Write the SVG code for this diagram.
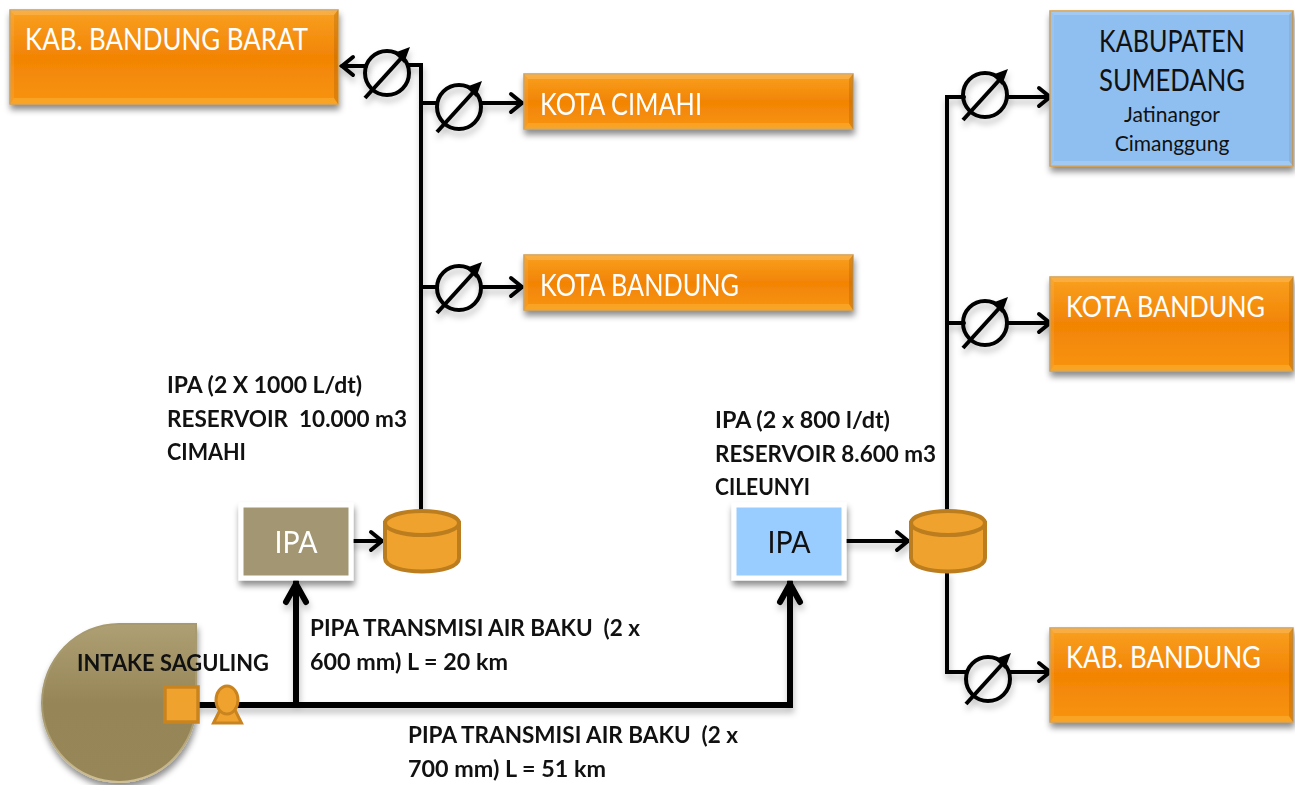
<svg xmlns="http://www.w3.org/2000/svg" width="1295" height="785" viewBox="0 0 1295 785">
<style>
.box{stroke:#d09a4a;stroke-width:1.5}
.o{fill:url(#og)}
.b{fill:#8fbff0}
.bt{fill:#fff;fill-opacity:.16}
.bb{fill:#ffd060;fill-opacity:.28}
.bl{fill:#fff;fill-opacity:.08}
.br{fill:#7a4000;fill-opacity:.2}
.t{font-family:"Lato","Noto Sans",sans-serif;font-size:30px}
.w{fill:#fff}
.k{fill:#111}
.l{font-family:"Lato","Noto Sans",sans-serif;font-size:23px;font-weight:700;fill:#111;white-space:pre}
.c{fill:none;stroke:#000;stroke-width:4;stroke-linecap:round;stroke-linejoin:miter}
.th{stroke-width:6}
.cy{fill:#f0a22e;stroke:#bc7d1e;stroke-width:4}
.m{fill:#fff;fill-opacity:0;stroke:#000;stroke-width:4}
</style>
<defs>
<linearGradient id="og" x1="0" y1="0" x2="0" y2="1"><stop offset="0" stop-color="#f9a020"/><stop offset=".5" stop-color="#f28405"/><stop offset="1" stop-color="#f8940e"/></linearGradient>
<linearGradient id="tg" x1="0" y1="0" x2="0" y2="1"><stop offset="0" stop-color="#ae9f74"/><stop offset=".5" stop-color="#968657"/><stop offset="1" stop-color="#978758"/></linearGradient>
<linearGradient id="rg" x1="0" y1="0" x2="0" y2="1"><stop offset="0" stop-color="#a89a70"/><stop offset=".6" stop-color="#a89a70"/><stop offset="1" stop-color="#d0c094"/></linearGradient>
<filter id="s" x="-15%" y="-25%" width="130%" height="160%"><feDropShadow dx="1" dy="5" stdDeviation="3" flood-color="#000" flood-opacity=".45"/></filter>
<filter id="ls" x="-20%" y="-20%" width="140%" height="140%"><feDropShadow dx="1" dy="5" stdDeviation="3" flood-color="#000" flood-opacity=".25"/></filter>
<marker id="a" markerUnits="userSpaceOnUse" markerWidth="22" markerHeight="26" refX="18" refY="13" orient="auto"><path d="M7 4L18 13L7 22" fill="none" stroke="#000" stroke-width="4" stroke-linecap="round"/></marker>
<marker id="A" markerUnits="userSpaceOnUse" markerWidth="26" markerHeight="30" refX="24" refY="15" orient="auto"><path d="M4 5L22 15L4 25" fill="none" stroke="#000" stroke-width="6" stroke-linecap="round" stroke-linejoin="miter"/></marker>
<g id="meter"><circle r="22" class="m"/><path d="M-22 25L18 -19" fill="none" stroke="#000" stroke-width="4"/><path d="M23 -26L7 -20L17 -10Z" fill="#000"/></g>
</defs>

<g id="intake">
<path d="M197 623V702A78 80 0 1 1 119 623Z" fill="url(#rg)" filter="url(#s)"/>
<path d="M195 625V702A76 78 0 1 1 119 625Z" fill="url(#tg)"/>
</g>

<g id="connectors" filter="url(#ls)">
<path class="c th" d="M199 705H790V582" marker-end="url(#A)"/>
<path class="c th" d="M296 705V582" marker-end="url(#A)"/>
<path class="c" d="M351 541H382" marker-end="url(#a)"/>
<path class="c" d="M845 541H908" marker-end="url(#a)"/>
<path class="c" d="M421 512V65H408" stroke-linecap="butt"/>
<path class="c" d="M366 66H342" marker-end="url(#a)"/>
<path class="c" d="M421 103H437M481 103H522" marker-end="url(#a)"/>
<path class="c" d="M421 287H437M481 287H522" marker-end="url(#a)"/>
<path class="c" d="M947 512V97H964M1007 97H1050" marker-end="url(#a)"/>
<path class="c" d="M947 323H964M1007 323H1050" marker-end="url(#a)"/>
<path class="c" d="M947 572V672H966M1010 672H1050" marker-end="url(#a)"/>
</g>

<g id="meters" filter="url(#ls)">
<use href="#meter" x="387" y="73"/>
<use href="#meter" x="459" y="107"/>
<use href="#meter" x="459" y="288"/>
<use href="#meter" x="985" y="95"/>
<use href="#meter" x="985" y="323"/>
<use href="#meter" x="988" y="679"/>
</g>

<g id="kab-bandung-barat"><rect class="box o" x="10" y="10" width="328" height="94" filter="url(#s)"/>
<path class="bt" d="M10 10H338L334 15H14Z"/><path class="bb" d="M10 104H338L334 98H14Z"/><path class="bl" d="M10 10L14 15V98L10 104Z"/><path class="br" d="M338 10L334 15V98L338 104Z"/>
<text class="t w" x="25" y="50" textLength="283" lengthAdjust="spacingAndGlyphs">KAB. BANDUNG BARAT</text></g>
<g id="kota-cimahi"><rect class="box o" x="524" y="74" width="329" height="55" filter="url(#s)"/>
<path class="bt" d="M524 74H853L849 79H528Z"/><path class="bb" d="M524 129H853L849 123H528Z"/><path class="bl" d="M524 74L528 79V123L524 129Z"/><path class="br" d="M853 74L849 79V123L853 129Z"/>
<text class="t w" x="540" y="115" textLength="162" lengthAdjust="spacingAndGlyphs">KOTA CIMAHI</text></g>
<g id="kota-bandung-1"><rect class="box o" x="524" y="255" width="329" height="55" filter="url(#s)"/>
<path class="bt" d="M524 255H853L849 260H528Z"/><path class="bb" d="M524 310H853L849 304H528Z"/><path class="bl" d="M524 255L528 260V304L524 310Z"/><path class="br" d="M853 255L849 260V304L853 310Z"/>
<text class="t w" x="540" y="296" textLength="199" lengthAdjust="spacingAndGlyphs">KOTA BANDUNG</text></g>
<g id="kabupaten-sumedang"><rect class="box b" x="1050" y="11" width="243" height="155" filter="url(#s)"/>
<path class="bt" d="M1050 11H1293L1289 15H1054Z"/><path class="bt" d="M1050 166H1293L1289 161H1054Z"/><path class="bl" d="M1050 11L1054 15V161L1050 166Z"/><path class="br" style="fill-opacity:.1" d="M1293 11L1289 15V161L1293 166Z"/>
<text class="t k" x="1172" y="52" text-anchor="middle" textLength="146" lengthAdjust="spacingAndGlyphs">KABUPATEN</text>
<text class="t k" x="1172" y="91" text-anchor="middle" textLength="146" lengthAdjust="spacingAndGlyphs">SUMEDANG</text>
<text class="k" x="1172" y="122" text-anchor="middle" font-family="Lato, sans-serif" font-size="21">Jatinangor</text>
<text class="k" x="1172" y="151" text-anchor="middle" font-family="Lato, sans-serif" font-size="21">Cimanggung</text></g>
<g id="kota-bandung-2"><rect class="box o" x="1050" y="277" width="243" height="94" filter="url(#s)"/>
<path class="bt" d="M1050 277H1293L1289 282H1054Z"/><path class="bb" d="M1050 371H1293L1289 365H1054Z"/><path class="bl" d="M1050 277L1054 282V365L1050 371Z"/><path class="br" d="M1293 277L1289 282V365L1293 371Z"/>
<text class="t w" x="1066" y="317" font-size="29" style="font-size:29px" textLength="199" lengthAdjust="spacingAndGlyphs">KOTA BANDUNG</text></g>
<g id="kab-bandung"><rect class="box o" x="1050" y="628" width="243" height="94" filter="url(#s)"/>
<path class="bt" d="M1050 628H1293L1289 633H1054Z"/><path class="bb" d="M1050 722H1293L1289 716H1054Z"/><path class="bl" d="M1050 628L1054 633V716L1050 722Z"/><path class="br" d="M1293 628L1289 633V716L1293 722Z"/>
<text class="t w" x="1066" y="668" textLength="195" lengthAdjust="spacingAndGlyphs">KAB. BANDUNG</text></g>

<g id="ipa-1"><rect x="241" y="505" width="110" height="73" fill="#a29673" stroke="#fff" stroke-width="5" filter="url(#s)"/><text class="t w" x="296" y="553" text-anchor="middle" textLength="43" lengthAdjust="spacingAndGlyphs">IPA</text></g>
<g id="ipa-2"><rect x="734" y="505" width="110" height="73" fill="#99ccff" stroke="#fff" stroke-width="5" filter="url(#s)"/><text class="t k" x="789" y="553" text-anchor="middle" textLength="43" lengthAdjust="spacingAndGlyphs">IPA</text></g>

<g id="reservoir-1"><path class="cy" d="M385 523V558C385 576 459 576 459 558V523Z"/><ellipse class="cy" cx="422" cy="523" rx="37" ry="12"/></g>
<g id="reservoir-2"><path class="cy" d="M911 523V558C911 576 985 576 985 558V523Z"/><ellipse class="cy" cx="948" cy="523" rx="37" ry="12"/></g>
<g id="intake-box"><rect x="165" y="687" width="33" height="35" fill="#f0a22e" stroke="#c9841f" stroke-width="3.500"/></g>
<g id="pump"><path d="M213.500 723L222 706H233L241.500 723Z" fill="#f0a22e" stroke="#c9841f" stroke-width="3"/><ellipse cx="227" cy="700" rx="11" ry="14" fill="#f0a22e" stroke="#c9841f" stroke-width="3"/></g>

<g id="labels">
<text class="l" x="167" y="393" textLength="195" lengthAdjust="spacingAndGlyphs">IPA (2 X 1000 L/dt)</text>
<text class="l" x="167" y="427" textLength="240" lengthAdjust="spacingAndGlyphs">RESERVOIR  10.000 m3</text>
<text class="l" x="167" y="460" textLength="79" lengthAdjust="spacingAndGlyphs">CIMAHI</text>
<text class="l" x="715" y="428" textLength="175" lengthAdjust="spacingAndGlyphs">IPA (2 x 800 l/dt)</text>
<text class="l" x="715" y="462" textLength="221" lengthAdjust="spacingAndGlyphs">RESERVOIR 8.600 m3</text>
<text class="l" x="715" y="495" textLength="95" lengthAdjust="spacingAndGlyphs">CILEUNYI</text>
<text class="l" x="77" y="671" textLength="192" lengthAdjust="spacingAndGlyphs">INTAKE SAGULING</text>
<text class="l" x="310" y="636" textLength="330" lengthAdjust="spacingAndGlyphs">PIPA TRANSMISI AIR BAKU  (2 x</text>
<text class="l" x="310" y="670" textLength="198" lengthAdjust="spacingAndGlyphs">600 mm) L = 20 km</text>
<text class="l" x="408" y="743" textLength="330" lengthAdjust="spacingAndGlyphs">PIPA TRANSMISI AIR BAKU  (2 x</text>
<text class="l" x="408" y="777" textLength="198" lengthAdjust="spacingAndGlyphs">700 mm) L = 51 km</text>
</g>
</svg>
